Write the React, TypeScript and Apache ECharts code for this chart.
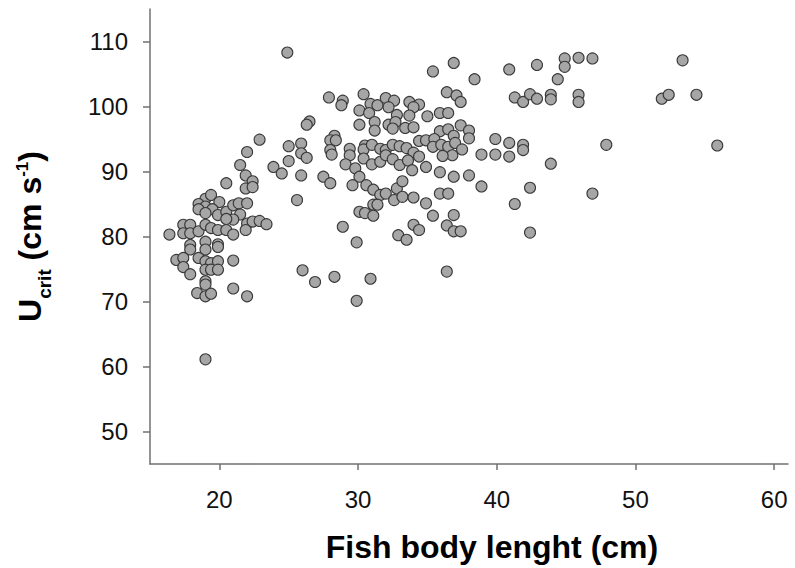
import React, { useEffect, useRef } from "react";
import * as echarts from "echarts";

// Fish body length (cm) vs critical swimming speed Ucrit (cm s-1)
const measurements: [number, number][] = [
  [20.5, 88.2], [21.9, 89.4], [22.4, 88.5], [21.9, 87.4], [22.4, 87.6], [25.6, 85.6],
  [19.0, 85.8], [19.4, 86.4], [20.0, 85.3], [18.5, 85.0], [19.0, 84.6], [18.5, 84.2], [19.5, 84.2],
  [19.0, 83.6], [19.9, 83.3], [20.5, 83.8], [21.0, 84.8], [21.4, 85.1], [22.0, 85.1], [21.5, 83.4],
  [21.0, 82.6], [20.5, 82.7], [17.4, 81.8], [17.9, 81.8], [17.4, 80.5], [17.9, 80.5], [18.5, 80.8],
  [19.0, 81.8], [19.4, 81.3], [19.9, 81.0], [20.5, 81.0], [21.0, 80.3], [22.0, 82.0], [22.4, 82.3],
  [22.9, 82.4], [23.4, 81.9], [21.9, 81.0], [16.4, 80.3], [17.9, 78.7], [17.9, 78.0], [19.0, 79.2],
  [19.0, 78.0], [19.9, 78.8], [19.9, 78.4], [16.9, 76.4], [17.4, 76.7], [17.4, 75.3], [17.9, 74.2],
  [18.5, 76.7], [19.0, 76.2], [19.4, 75.9], [19.9, 76.2], [19.0, 74.9], [19.4, 74.9], [19.9, 74.9],
  [21.0, 76.3], [19.0, 73.1], [19.0, 72.6], [21.0, 72.0], [22.0, 70.8], [18.4, 71.3], [19.0, 70.8],
  [19.4, 71.2], [19.0, 61.1],
  [36.9, 106.7], [35.4, 105.4], [38.4, 104.2], [40.9, 105.7], [27.9, 101.4], [28.9, 100.9],
  [28.8, 100.2], [30.4, 101.9], [30.1, 99.4], [30.9, 100.4], [31.4, 100.2], [32.0, 101.3],
  [32.6, 100.9], [30.8, 99.0], [32.2, 99.9], [32.8, 98.7], [33.7, 100.7], [34.4, 100.3], [34.0, 99.9],
  [33.7, 98.6], [35.0, 98.5], [35.9, 99.0], [36.5, 99.0], [36.4, 102.2], [37.1, 101.7], [37.4, 100.7],
  [41.3, 101.4], [26.5, 97.7], [26.3, 97.2], [30.1, 97.2], [31.2, 97.6], [31.2, 96.3], [32.2, 97.2],
  [32.7, 97.6], [32.5, 96.6], [33.4, 96.7], [34.0, 96.8], [22.9, 94.9], [25.0, 93.9], [25.9, 94.3],
  [28.3, 95.5], [28.0, 94.8], [28.4, 94.8], [35.9, 96.2], [36.5, 96.5], [37.4, 97.1], [38.0, 96.3],
  [36.9, 95.5], [38.0, 95.1], [39.9, 95.0], [40.9, 94.4], [22.0, 93.0], [25.9, 92.8], [26.3, 92.1],
  [25.0, 91.6], [23.9, 90.7], [24.5, 89.7], [25.9, 89.4], [28.0, 93.3], [28.1, 92.6], [29.4, 93.5],
  [29.4, 92.5], [30.5, 94.0], [30.4, 93.4], [31.0, 94.1], [31.6, 93.5], [32.0, 93.3], [32.5, 94.1],
  [33.0, 93.9], [33.5, 93.6], [34.0, 92.9], [34.4, 94.7], [34.9, 94.8], [35.5, 95.0], [35.4, 93.8],
  [36.0, 94.1], [36.5, 93.8], [37.0, 94.4], [37.5, 93.4], [36.8, 92.5], [36.1, 92.4], [38.9, 92.6],
  [39.9, 92.6], [40.9, 92.3], [34.4, 92.3], [27.5, 89.2], [28.0, 88.2], [29.1, 91.1], [29.8, 90.5],
  [30.1, 89.2], [30.4, 92.0], [31.0, 91.1], [31.6, 91.5], [32.0, 92.5], [32.5, 91.9], [33.0, 91.0],
  [33.6, 91.7], [33.9, 90.2], [34.9, 90.7], [35.9, 89.9], [36.9, 89.2], [38.0, 89.4], [38.9, 87.7],
  [29.6, 87.9], [30.6, 87.9], [31.1, 87.2], [31.6, 86.4], [32.0, 86.6], [32.8, 87.4], [33.2, 88.5],
  [31.1, 84.9], [31.4, 84.9], [32.6, 85.6], [33.2, 86.1], [34.0, 86.0], [34.9, 85.1], [35.9, 86.6],
  [36.5, 86.6], [41.3, 85.0], [21.5, 91.0], [28.9, 81.5], [30.1, 83.8], [30.5, 83.6], [31.1, 83.2],
  [29.9, 79.1], [32.9, 80.2], [33.5, 79.5], [34.0, 81.8], [34.4, 81.0], [35.4, 83.2], [36.4, 81.7],
  [36.9, 83.3], [36.9, 80.8], [37.4, 80.8], [26.0, 74.8], [26.9, 73.0], [28.3, 73.8], [30.9, 73.5],
  [36.4, 74.6], [29.9, 70.1], [24.9, 108.3],
  [42.9, 106.4], [44.9, 107.4], [44.9, 106.1], [45.9, 107.5], [46.9, 107.4], [44.4, 104.2],
  [41.9, 100.7], [42.4, 101.9], [42.9, 101.2], [43.9, 101.8], [43.9, 101.1], [45.9, 101.8],
  [45.9, 100.7], [51.9, 101.2], [52.4, 101.8], [53.4, 107.1], [54.4, 101.8], [55.9, 94.0],
  [41.9, 94.1], [41.9, 93.3], [43.9, 91.2], [47.9, 94.1], [42.4, 87.5], [46.9, 86.6], [42.4, 80.6],
];

const xTicks = [20, 30, 40, 50, 60];
const yTicks = [50, 60, 70, 80, 90, 100, 110];
const xName = "Fish body lenght (cm)";
const yName = "{a|U}{b|crit}{a| (cm s}{c|-1}{a|)}";

const FONT = "'Liberation Sans', Arial, Helvetica, sans-serif";

export default function App() {
  const ref = useRef<HTMLDivElement>(null);
  useEffect(() => {
    if (!ref.current) return;
    const chart = echarts.init(ref.current, null, { renderer: "svg" });
    const axisLineStyle = { color: "#707070", width: 1.5 };
    chart.setOption({
      animation: false,
      backgroundColor: "#ffffff",
      grid: { left: 150, right: 7, top: 9, bottom: 101, containLabel: false },
      xAxis: {
        type: "value",
        min: 15,
        max: 61,
        name: xName,
        nameLocation: "middle",
        nameGap: 67,
        nameTextStyle: {
          fontFamily: FONT,
          fontSize: 32,
          fontWeight: "bold",
          color: "#000",
          padding: [0, 0, 0, 46],
        },
        axisLine: { show: true, onZero: false, lineStyle: axisLineStyle },
        axisTick: { show: true, length: 6, customValues: xTicks, lineStyle: axisLineStyle },
        axisLabel: {
          customValues: xTicks,
          margin: 23,
          fontFamily: FONT,
          fontSize: 24,
          color: "#111",
        },
        splitLine: { show: false },
      },
      yAxis: {
        type: "value",
        min: 45,
        max: 115,
        name: yName,
        nameLocation: "middle",
        nameGap: 96,
        nameTextStyle: {
          fontFamily: FONT,
          fontWeight: "bold",
          color: "#000",
          rich: {
            a: { fontFamily: FONT, fontSize: 32, fontWeight: "bold", color: "#000", lineHeight: 40, verticalAlign: "top" },
            b: { fontFamily: FONT, fontSize: 19, fontWeight: "bold", color: "#000", lineHeight: 7, verticalAlign: "bottom" },
            c: { fontFamily: FONT, fontSize: 17, fontWeight: "bold", color: "#000", lineHeight: 10, verticalAlign: "top" },
          },
        },
        axisLine: { show: true, onZero: false, lineStyle: axisLineStyle },
        axisTick: { show: true, length: 7, customValues: yTicks, lineStyle: axisLineStyle },
        axisLabel: {
          customValues: yTicks,
          margin: 22,
          fontFamily: FONT,
          fontSize: 24,
          color: "#111",
        },
        splitLine: { show: false },
      },
      series: [
        {
          type: "scatter",
          data: measurements,
          symbol: "circle",
          symbolSize: 11,
          itemStyle: { color: "#a6a6a6", borderColor: "#3a3a3a", borderWidth: 1.1, opacity: 1 },
          emphasis: { disabled: true },
        },
      ],
    });
    return () => chart.dispose();
  }, []);
  return <div ref={ref} style={{ width: 795, height: 568, position: "absolute", left: 0, top: 0 }} />;
}
